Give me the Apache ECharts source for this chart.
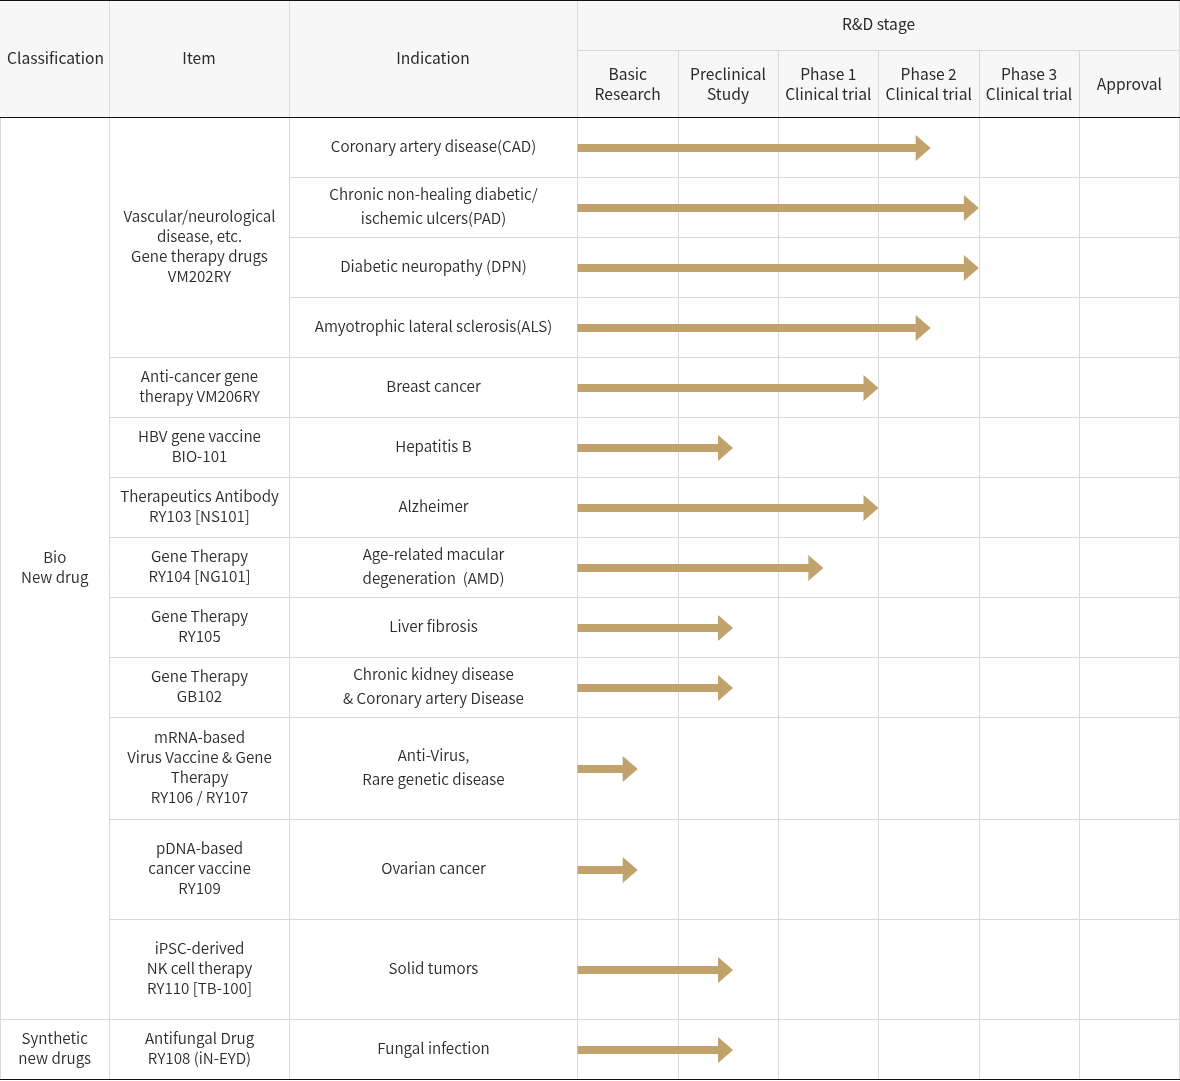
<!DOCTYPE html>
<html>
<head>
<meta charset="utf-8">
<script src="https://cdn.jsdelivr.net/npm/echarts@6/dist/echarts.min.js"></script>
<style>
html,body{margin:0;padding:0;background:#fff;}
#chart{width:1180px;height:1081px;}
</style>
</head>
<body>
<div id="chart"></div>
<script>
// ---------- DATA ----------
const stages = ['Basic\nResearch', 'Preclinical\nStudy', 'Phase 1\nClinical trial', 'Phase 2\nClinical trial', 'Phase 3\nClinical trial', 'Approval'];
const classifications = ['Bio\nNew drug', 'Synthetic\nnew drugs'];
const classificationSpans = [[0, 12], [13, 13]];
const items = [
  '\nVascular/neurological\ndisease, etc.\nGene therapy drugs\nVM202RY',
  'Anti-cancer gene\ntherapy VM206RY',
  'HBV gene vaccine\nBIO-101',
  'Therapeutics Antibody\nRY103 [NS101]',
  'Gene Therapy\nRY104 [NG101]',
  'Gene Therapy\nRY105',
  'Gene Therapy\nGB102',
  'mRNA-based\nVirus Vaccine & Gene\nTherapy\nRY106 / RY107',
  'pDNA-based\ncancer vaccine\nRY109',
  'iPSC-derived\nNK cell therapy\nRY110 [TB-100]',
  'Antifungal Drug\nRY108 (iN-EYD)'
];
const itemSpans = [[0, 3], [4, 4], [5, 5], [6, 6], [7, 7], [8, 8], [9, 9], [10, 10], [11, 11], [12, 12], [13, 13]];
const indications = [
  'Coronary artery disease(CAD)',
  'Chronic non-healing diabetic/\nischemic ulcers(PAD)',
  'Diabetic neuropathy (DPN)',
  'Amyotrophic lateral sclerosis(ALS)',
  'Breast cancer',
  'Hepatitis B',
  'Alzheimer',
  'Age-related macular\ndegeneration  (AMD)',
  'Liver fibrosis',
  'Chronic kidney disease\n& Coronary artery Disease',
  'Anti-Virus,\nRare genetic disease',
  'Ovarian cancer',
  'Solid tumors',
  'Fungal infection'
];
// progress in stage units (0 = start of Basic Research, 6 = end of Approval)
const progress = [3.52, 4.0, 4.0, 3.52, 3.0, 1.55, 3.0, 2.45, 1.55, 1.55, 0.6, 0.6, 1.55, 1.55];

// ---------- LAYOUT ----------
const rowHeights = [60, 60, 60, 60, 60, 60, 60, 60, 60, 60, 102, 100, 100, 60];
const rowEdges = [0];
rowHeights.forEach(h => rowEdges.push(rowEdges[rowEdges.length - 1] + h));
const totalH = rowEdges[rowEdges.length - 1];
const colEdges = [0, 109.5, 289.5, 577.5];
const HEADER_BOTTOM = 117.5;
const TABLE_RIGHT = 1179.5;
const GOLD = '#c1a26a';
const GRID_LINE = '#d9d9d9';
const TEXT = '#2b2b2b';
const FONT = '"Noto Sans CJK KR", "Noto Sans", sans-serif';
const BODY_FONT = '350 15.2px ' + FONT;
const TEXT_SHIFT = -1;

const cells = [];
classifications.forEach((t, i) => cells.push({ value: [colEdges[0], colEdges[1], classificationSpans[i][0], classificationSpans[i][1]], text: t, lh: 20 }));
items.forEach((t, i) => cells.push({ value: [colEdges[1], colEdges[2], itemSpans[i][0], itemSpans[i][1]], text: t, lh: 20 }));
indications.forEach((t, i) => cells.push({ value: [colEdges[2], colEdges[3], i, i], text: t, lh: 24 }));

const chart = echarts.init(document.getElementById('chart'), null, { renderer: 'canvas' });

function cellRender(params, api) {
  const c = cells[params.dataIndex];
  const p0 = api.coord([api.value(0), rowEdges[api.value(2)]]);
  const p1 = api.coord([api.value(1), rowEdges[api.value(3) + 1]]);
  const children = [];
  children.push({ type: 'line', shape: { x1: p1[0], y1: p0[1], x2: p1[0], y2: p1[1] }, style: { stroke: GRID_LINE, lineWidth: 1 }, silent: true });
  if (api.value(3) < rowHeights.length - 1) {
    children.push({ type: 'line', shape: { x1: p0[0], y1: p1[1], x2: p1[0], y2: p1[1] }, style: { stroke: GRID_LINE, lineWidth: 1 }, silent: true });
  }
  children.push({
    type: 'text',
    style: {
      text: c.text, x: (p0[0] + p1[0]) / 2, y: (p0[1] + p1[1]) / 2 + TEXT_SHIFT,
      align: 'center', verticalAlign: 'middle',
      font: BODY_FONT, lineHeight: c.lh, fill: TEXT
    },
    silent: true
  });
  return { type: 'group', children };
}

function arrowRender(params, api) {
  const r = params.dataIndex;
  const yMid = (rowEdges[r] + rowEdges[r + 1]) / 2;
  const s = api.coord([0, yMid]);
  const e = api.coord([api.value(0), yMid]);
  const yc = s[1] + 0.5;
  const head = 15, halfHead = 13, halfShaft = 4;
  const children = [];
  if (r < rowHeights.length - 1) {
    const l = api.coord([0, rowEdges[r + 1]]);
    const rr = api.coord([6, rowEdges[r + 1]]);
    children.push({ type: 'line', shape: { x1: l[0], y1: l[1], x2: rr[0], y2: rr[1] }, style: { stroke: GRID_LINE, lineWidth: 1 }, silent: true });
  }
  children.push({
    type: 'polygon',
    shape: {
      points: [
        [s[0], yc - halfShaft], [e[0] - head, yc - halfShaft], [e[0] - head, yc - halfHead],
        [e[0], yc], [e[0] - head, yc + halfHead], [e[0] - head, yc + halfShaft], [s[0], yc + halfShaft]
      ]
    },
    style: { fill: GOLD },
    z2: 10
  });
  return { type: 'group', children };
}

const hdrFont = '400 15.6px ' + FONT;
const graphics = [
  { type: 'rect', shape: { x: 0, y: 0, width: 1180, height: 117 }, style: { fill: '#f7f7f7' }, z: -10, silent: true },
  { type: 'line', shape: { x1: 109.5, y1: 0, x2: 109.5, y2: 117 }, style: { stroke: GRID_LINE }, silent: true },
  { type: 'line', shape: { x1: 289.5, y1: 0, x2: 289.5, y2: 117 }, style: { stroke: GRID_LINE }, silent: true },
  { type: 'line', shape: { x1: 577.5, y1: 0, x2: 577.5, y2: 117 }, style: { stroke: GRID_LINE }, silent: true },
  { type: 'line', shape: { x1: 577.5, y1: 50.5, x2: 1180, y2: 50.5 }, style: { stroke: GRID_LINE }, silent: true },
  { type: 'line', shape: { x1: TABLE_RIGHT, y1: 0, x2: TABLE_RIGHT, y2: 1079 }, style: { stroke: GRID_LINE }, silent: true },
  { type: 'line', shape: { x1: 0.5, y1: 117, x2: 0.5, y2: 1079 }, style: { stroke: GRID_LINE }, silent: true },
  { type: 'line', shape: { x1: 0, y1: 0.5, x2: 1180, y2: 0.5 }, style: { stroke: '#111', lineWidth: 1 }, z: 20, silent: true },
  { type: 'line', shape: { x1: 0, y1: HEADER_BOTTOM, x2: 1180, y2: HEADER_BOTTOM }, style: { stroke: '#111', lineWidth: 1 }, z: 20, silent: true },
  { type: 'line', shape: { x1: 0, y1: 1079.5, x2: 1180, y2: 1079.5 }, style: { stroke: '#111', lineWidth: 1 }, z: 20, silent: true },
  { type: 'text', style: { text: 'Classification', x: 55.5, y: 58.5, align: 'center', verticalAlign: 'middle', font: hdrFont, fill: TEXT }, silent: true },
  { type: 'text', style: { text: 'Item', x: 199, y: 58.5, align: 'center', verticalAlign: 'middle', font: hdrFont, fill: TEXT }, silent: true },
  { type: 'text', style: { text: 'Indication', x: 433, y: 58.5, align: 'center', verticalAlign: 'middle', font: hdrFont, fill: TEXT }, silent: true },
  { type: 'text', style: { text: 'R&D stage', x: 878.5, y: 24, align: 'center', verticalAlign: 'middle', font: hdrFont, fill: TEXT }, silent: true }
];

const option = {
  animation: false,
  backgroundColor: '#fff',
  grid: [
    { left: 0, top: HEADER_BOTTOM, width: colEdges[3], height: totalH, containLabel: false },
    { left: colEdges[3], top: HEADER_BOTTOM, width: TABLE_RIGHT - colEdges[3], height: totalH, containLabel: false }
  ],
  xAxis: [
    { type: 'value', gridIndex: 0, min: 0, max: colEdges[3], show: false },
    {
      type: 'value', gridIndex: 1, min: 0, max: 6, interval: 1, position: 'bottom',
      axisLine: { show: false }, axisTick: { show: false }, axisLabel: { show: false },
      splitLine: { show: true, lineStyle: { color: GRID_LINE, width: 1 } }
    },
    {
      type: 'category', gridIndex: 1, position: 'top', data: stages, boundaryGap: true,
      axisLine: { show: false },
      axisTick: { show: true, alignWithLabel: false, inside: false, length: 67, lineStyle: { color: GRID_LINE } },
      axisLabel: {
        show: true, interval: 0, margin: 33, verticalAlign: 'middle',
        fontFamily: FONT, fontSize: 15.6, fontWeight: 400, lineHeight: 20, color: TEXT
      },
      splitLine: { show: false }
    }
  ],
  yAxis: [
    { type: 'value', gridIndex: 0, min: 0, max: totalH, inverse: true, show: false },
    { type: 'value', gridIndex: 1, min: 0, max: totalH, inverse: true, show: false }
  ],
  graphic: graphics,
  series: [
    {
      type: 'custom', name: 'cells', xAxisIndex: 0, yAxisIndex: 0,
      renderItem: cellRender,
      data: cells.map(c => c.value),
      silent: true
    },
    {
      type: 'custom', name: 'progress', xAxisIndex: 1, yAxisIndex: 1,
      renderItem: arrowRender,
      data: progress.map(v => [v]),
      encode: { x: 0 },
      silent: true
    }
  ]
};
chart.setOption(option);
</script>
</body>
</html>
